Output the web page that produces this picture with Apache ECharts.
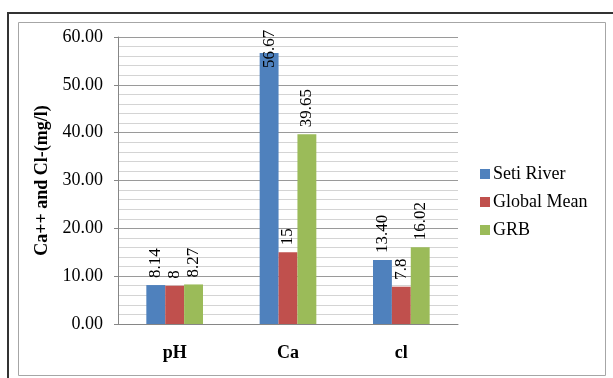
<!DOCTYPE html>
<html>
<head>
<meta charset="utf-8">
<script src="https://cdn.jsdelivr.net/npm/echarts@6/dist/echarts.min.js"></script>
<style>
html,body{margin:0;padding:0;background:#fff;}
#c{width:613px;height:378px;}
</style>
</head>
<body>
<div id="c"></div>
<script>
var categories = ['pH', 'Ca', 'cl'];
var seriesNames = ['Seti River', 'Global Mean', 'GRB'];
var setiRiver = [8.14, 56.67, 13.40];
var globalMean = [8, 15, 7.8];
var grb = [8.27, 39.65, 16.02];
var setiRiverLabels = ['8.14', '56.67', '13.40'];
var globalMeanLabels = ['8', '15', '7.8'];
var grbLabels = ['8.27', '39.65', '16.02'];
var yTicks = [0, 10, 20, 30, 40, 50, 60];

var colors = ['#4F81BD', '#C0504D', '#9BBB59'];
var font = '"Liberation Serif", "Times New Roman", serif';

function makeSeries(name, values, labels, color) {
  return {
    name: name,
    type: 'bar',
    barGap: '0%',
    barCategoryGap: '50%',
    itemStyle: { color: color },
    data: values.map(function (v, i) {
      var item = { value: v };
      if (v > 55) { item.label = { distance: -15 }; }
      return item;
    }),
    label: {
      show: true,
      position: 'top',
      rotate: 90,
      align: 'left',
      verticalAlign: 'middle',
      distance: 7,
      fontFamily: font,
      fontSize: 17,
      color: '#000',
      formatter: function (p) { return labels[p.dataIndex]; }
    }
  };
}

var chart = echarts.init(document.getElementById('c'), null, { renderer: 'canvas' });
chart.setOption({
  backgroundColor: '#fff',
  animation: false,
  color: colors,
  graphic: [
    { type: 'rect', silent: true, shape: { x: 8, y: 13, width: 700, height: 500 },
      style: { fill: 'none', stroke: '#333', lineWidth: 2 } },
    { type: 'rect', silent: true, shape: { x: 18.5, y: 22.5, width: 587, height: 353 },
      style: { fill: 'none', stroke: '#a6a6a6', lineWidth: 1 } }
  ],
  grid: { left: 118, right: 155, top: 37, bottom: 54 },
  legend: {
    orient: 'vertical',
    left: 475,
    top: 160,
    itemWidth: 10,
    itemHeight: 10,
    itemGap: 10,
    icon: 'rect',
    textStyle: { fontFamily: font, fontSize: 18, color: '#000', padding: [0, 0, 0, -2] },
    data: seriesNames
  },
  xAxis: {
    type: 'category',
    data: categories,
    axisLine: { lineStyle: { color: '#868686', width: 1 } },
    axisTick: { show: false },
    axisLabel: { fontFamily: font, fontSize: 18, fontWeight: 'bold', color: '#000', margin: 20 }
  },
  yAxis: {
    type: 'value',
    min: yTicks[0],
    max: yTicks[yTicks.length - 1],
    interval: 10,
    name: 'Ca++ and Cl-(mg/l)',
    nameLocation: 'middle',
    nameGap: 66,
    nameTextStyle: { fontFamily: font, fontSize: 18, fontWeight: 'bold', color: '#000' },
    axisLine: { show: true, lineStyle: { color: '#868686', width: 1 } },
    axisTick: { show: true, length: 4, lineStyle: { color: '#868686' } },
    axisLabel: {
      fontFamily: font, fontSize: 18, color: '#000', margin: 15,
      formatter: function (v) { return v.toFixed(2); }
    },
    splitLine: { show: true, lineStyle: { color: '#9a9a9a', width: 1 } },
    minorTick: { show: false, splitNumber: 5 },
    minorSplitLine: { show: true, lineStyle: { color: '#d4d4d4', width: 1 } }
  },
  series: [
    makeSeries(seriesNames[0], setiRiver, setiRiverLabels, colors[0]),
    makeSeries(seriesNames[1], globalMean, globalMeanLabels, colors[1]),
    makeSeries(seriesNames[2], grb, grbLabels, colors[2])
  ]
});
</script>
</body>
</html>
